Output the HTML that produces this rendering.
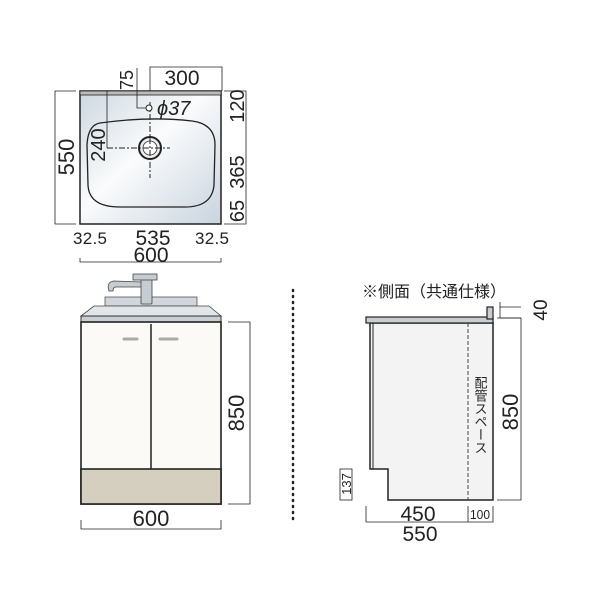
<!DOCTYPE html>
<html><head><meta charset="utf-8"><style>body{margin:0;background:#fff}svg{display:block}text{font-family:"Liberation Sans","Noto Sans CJK JP",sans-serif;fill:#222}</style></head><body>
<svg width="600" height="600" viewBox="0 0 600 600">
<defs>
<linearGradient id="g" x1="0" y1="0" x2="1" y2="1"><stop offset="0" stop-color="#cdd7e0"/><stop offset="0.45" stop-color="#fafbfc"/><stop offset="1" stop-color="#c9d4de"/></linearGradient>
</defs>
<!-- top view -->
<rect x="80" y="91" width="141" height="133" fill="url(#g)" stroke="#222" stroke-width="1.5"/>
<rect x="80" y="91" width="141" height="4" fill="#bbb" stroke="#222" stroke-width="0.8"/>
<path d="M100 123 Q150 116 192 121 Q215 124 215 145 L214 185 Q212 207 185 207 L120 207 Q89 207 88 185 L87 145 Q88 125 100 123 Z" fill="none" stroke="#222" stroke-width="1.3"/>
<circle cx="150" cy="148" r="11" fill="#eee" stroke="#222" stroke-width="2"/>
<circle cx="150" cy="148" r="7" fill="#fff" stroke="#333" stroke-width="0.8"/>
<line x1="150" y1="102" x2="150" y2="178" stroke="#222" stroke-dasharray="6,2,2,2"/>
<line x1="107" y1="148" x2="170" y2="148" stroke="#222" stroke-dasharray="6,2,2,2"/>
<circle cx="149" cy="108" r="3" fill="#fff" stroke="#222"/>
<polyline points="137,68 137,108 146,108" fill="none" stroke="#222" stroke-width="0.8"/>
<line x1="107" y1="91" x2="107" y2="148" stroke="#222" stroke-width="0.8"/>
<polyline points="150,91 150,67 222,67 222,91" fill="none" stroke="#222" stroke-width="0.8"/>
<polyline points="76,91 55,91 55,224 76,224" fill="none" stroke="#222" stroke-width="0.8"/>
<polyline points="224,91 246,91 246,224 224,224" fill="none" stroke="#222" stroke-width="0.8"/>
<polyline points="80,258 80,262 221,262 221,258" fill="none" stroke="#222" stroke-width="0.8"/>
<text x="182" y="85" font-size="21" text-anchor="middle">300</text>
<text transform="translate(133,80) rotate(-90)" font-size="18" text-anchor="middle">75</text>
<text x="157" y="115" font-size="20" font-style="italic">ϕ37</text>
<text transform="translate(105,145) rotate(-90)" font-size="20" text-anchor="middle">240</text>
<text transform="translate(74,157) rotate(-90)" font-size="22" text-anchor="middle">550</text>
<text transform="translate(244,106) rotate(-90)" font-size="20" text-anchor="middle">120</text>
<text transform="translate(244,172) rotate(-90)" font-size="20" text-anchor="middle">365</text>
<text transform="translate(244,211) rotate(-90)" font-size="20" text-anchor="middle">65</text>
<text x="90" y="244" font-size="17" text-anchor="middle" textLength="34">32.5</text>
<text x="153" y="245" font-size="21" text-anchor="middle">535</text>
<text x="212" y="244" font-size="17" text-anchor="middle" textLength="34">32.5</text>
<text x="151" y="262" font-size="21" text-anchor="middle">600</text>
<!-- front view -->
<rect x="105" y="297" width="92" height="9" fill="#d0d6dc" stroke="#555" stroke-width="0.8"/>
<path d="M109 291 Q106 282 114 281 L142 282 L142 287 L116 287 Q113 287 113 291 Z" fill="#c5ccd2" stroke="#444" stroke-width="0.8"/>
<rect x="141" y="276" width="11" height="28" rx="1" fill="#c5ccd2" stroke="#444" stroke-width="0.8"/>
<rect x="133" y="274" width="24" height="6" fill="#c5ccd2" stroke="#444" stroke-width="0.8"/>
<polygon points="94,306 209,306 221,316 81,316" fill="#e1e6ea" stroke="#444" stroke-width="0.8"/>
<rect x="81" y="316" width="140" height="6" fill="#c8ced4" stroke="#333" stroke-width="1"/>
<rect x="81" y="322" width="140" height="182" fill="#fbfaf6" stroke="#222" stroke-width="1.6"/>
<line x1="151" y1="324" x2="151" y2="469" stroke="#222" stroke-width="1.5"/>
<rect x="81" y="469" width="140" height="35" fill="#d4cfbf" stroke="#222" stroke-width="1.6"/>
<line x1="124" y1="339" x2="137" y2="339" stroke="#aaa" stroke-width="3" stroke-linecap="round"/>
<line x1="160" y1="339" x2="177" y2="339" stroke="#aaa" stroke-width="3" stroke-linecap="round"/>
<polyline points="228,322 250,322 250,504 228,504" fill="none" stroke="#222" stroke-width="0.8"/>
<text transform="translate(244,413) rotate(-90)" font-size="22" text-anchor="middle">850</text>
<polyline points="81,520 81,529 221,529 221,520" fill="none" stroke="#222" stroke-width="0.8"/>
<text x="151" y="526" font-size="22" text-anchor="middle">600</text>
<!-- dotted -->
<line x1="293" y1="290" x2="293" y2="520" stroke="#222" stroke-width="2.5" stroke-dasharray="1,5" stroke-linecap="round"/>
<!-- side view -->
<text x="362" y="297" font-size="16">※側面（共通仕様）</text>
<path d="M370 323 L493 323 L493 500 L388 500 L388 469 L370 469 Z" fill="#f3f3f3" stroke="#222" stroke-width="1.5"/>
<line x1="373" y1="323" x2="373" y2="469" stroke="#222" stroke-width="1"/>
<rect x="366" y="317" width="127" height="6" fill="#c8ced4" stroke="#222" stroke-width="1.2"/>
<rect x="487" y="307" width="6" height="12" fill="#c8ced4" stroke="#222" stroke-width="1.2"/>
<line x1="468" y1="323" x2="468" y2="500" stroke="#444" stroke-width="1" stroke-dasharray="4,2"/>
<text x="480" y="376" font-size="13" style="writing-mode:vertical-rl" text-anchor="start">配管スペース</text>
<polyline points="500,307 521,307" stroke="#222" stroke-width="0.8"/>
<line x1="500" y1="318" x2="521" y2="318" stroke="#222" stroke-width="0.8"/>
<line x1="500" y1="302" x2="500" y2="318" stroke="#222" stroke-width="0.8"/>
<polyline points="497,318 521,318 521,500 497,500" fill="none" stroke="#222" stroke-width="0.8"/>
<text transform="translate(547,310) rotate(-90)" font-size="19" text-anchor="middle">40</text>
<text transform="translate(518,412) rotate(-90)" font-size="22" text-anchor="middle">850</text>
<rect x="340" y="469" width="12" height="31" fill="none" stroke="#222" stroke-width="0.8"/>
<text transform="translate(351,484) rotate(-90)" font-size="13" text-anchor="middle">137</text>
<polyline points="366,506 366,522 493,522 493,506" fill="none" stroke="#222" stroke-width="0.8"/>
<line x1="468" y1="506" x2="468" y2="522" stroke="#222" stroke-width="0.8"/>
<text x="418" y="521" font-size="21" text-anchor="middle">450</text>
<text x="480" y="519" font-size="13" text-anchor="middle" textLength="20" lengthAdjust="spacingAndGlyphs">100</text>
<text x="420" y="541" font-size="21" text-anchor="middle">550</text>
</svg>
</body></html>
